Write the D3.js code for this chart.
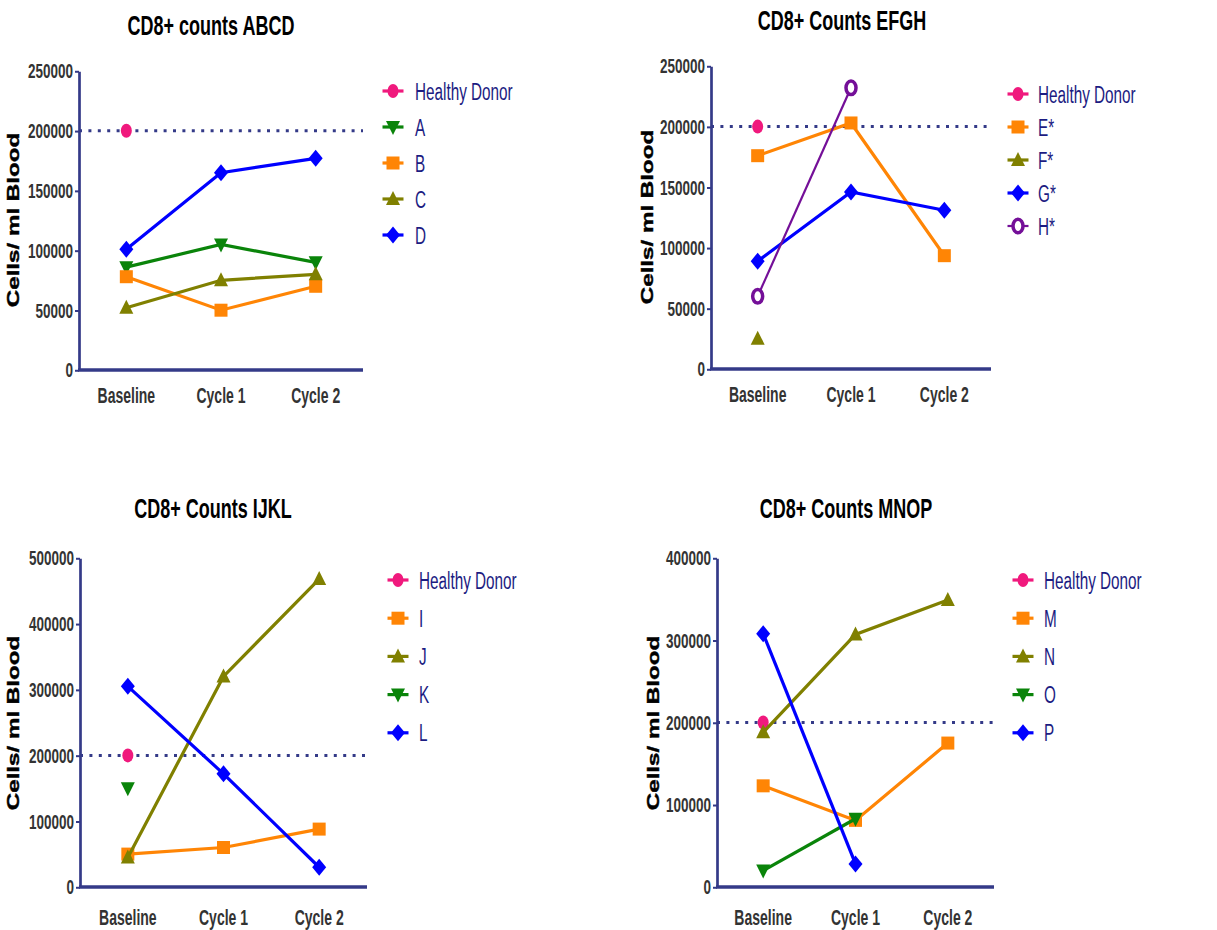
<!DOCTYPE html>
<html>
<head>
<meta charset="utf-8">
<script src="https://cdn.jsdelivr.net/npm/d3@7"></script>
<style>
  body { margin: 0; background: #fff; }
  text { font-family: "Liberation Sans", Arial, sans-serif; }
</style>
</head>
<body>
<svg id="chart"></svg>
<script>
// data
const timepoints = ['Baseline', 'Cycle 1', 'Cycle 2'];
const healthyDonor = [200000, null, null];
const referenceLevel = 200000;

const seriesA = [86000, 105000, 90000];
const seriesB = [78000, 50000, 70000];
const seriesC = [52000, 75000, 80000];
const seriesD = [101000, 165000, 177000];

const seriesE = [176000, 203000, 93500];
const seriesF = [25000, null, null];
const seriesG = [89000, 146000, 131000];
const seriesH = [60000, 232000, null];

const seriesI = [50000, 60000, 88000];
const seriesJ = [45000, 320000, 468000];
const seriesK = [150000, null, null];
const seriesL = [305000, 172000, 30000];

const seriesM = [123000, 81000, 175000];
const seriesN = [188000, 307000, 349000];
const seriesO = [20000, 83000, null];
const seriesP = [308000, 28000, null];

// the picture is stretched vertically, so draw into a 600 high viewBox
const W = 1217, H = 930, VH = 600;
const SY = H / VH;
const v = px => px / SY;

const pink = '#f0197d', green = '#0a840a', orange = '#ff8505',
      olive = '#808000', blue = '#0000ff', purple = '#740f98';
const axisColor = '#343a88', tickColor = '#333', legendColor = '#1c1c82';

const hd = { name: 'Healthy Donor', values: healthyDonor, color: pink, shape: 'circle' };

const panels = [
  { title: 'CD8+ counts ABCD', titleX: 211, titleY: 35,
    left: 79, right: 363, top: 71, bottom: 370, yMax: 250000, yStep: 50000,
    yLabelX: 18.5, yLabelY: 220, xLabelY: 403,
    legendX: 393, legendTextX: 415, legendY0: 91, legendDy: 36,
    series: [hd,
      { name: 'A', values: seriesA, color: green, shape: 'down' },
      { name: 'B', values: seriesB, color: orange, shape: 'square' },
      { name: 'C', values: seriesC, color: olive, shape: 'up' },
      { name: 'D', values: seriesD, color: blue, shape: 'diamond' }] },
  { title: 'CD8+ Counts EFGH', titleX: 842, titleY: 30,
    left: 711, right: 991, top: 66, bottom: 369, yMax: 250000, yStep: 50000,
    yLabelX: 652.5, yLabelY: 217, xLabelY: 402,
    legendX: 1018, legendTextX: 1038, legendY0: 94, legendDy: 33,
    series: [hd,
      { name: 'E*', values: seriesE, color: orange, shape: 'square' },
      { name: 'F*', values: seriesF, color: olive, shape: 'up' },
      { name: 'G*', values: seriesG, color: blue, shape: 'diamond' },
      { name: 'H*', values: seriesH, color: purple, shape: 'ring', width: 2.2 }] },
  { title: 'CD8+ Counts IJKL', titleX: 213, titleY: 518,
    left: 80, right: 367, top: 558, bottom: 887, yMax: 500000, yStep: 100000,
    yLabelX: 18.5, yLabelY: 723, xLabelY: 925,
    legendX: 398, legendTextX: 419, legendY0: 580, legendDy: 38.2,
    series: [hd,
      { name: 'I', values: seriesI, color: orange, shape: 'square' },
      { name: 'J', values: seriesJ, color: olive, shape: 'up' },
      { name: 'K', values: seriesK, color: green, shape: 'down' },
      { name: 'L', values: seriesL, color: blue, shape: 'diamond' }] },
  { title: 'CD8+ Counts MNOP', titleX: 846, titleY: 518,
    left: 717, right: 994, top: 558, bottom: 887, yMax: 400000, yStep: 100000,
    yLabelX: 658.5, yLabelY: 723, xLabelY: 925,
    legendX: 1023, legendTextX: 1044, legendY0: 580, legendDy: 38.2,
    series: [hd,
      { name: 'M', values: seriesM, color: orange, shape: 'square' },
      { name: 'N', values: seriesN, color: olive, shape: 'up' },
      { name: 'O', values: seriesO, color: green, shape: 'down' },
      { name: 'P', values: seriesP, color: blue, shape: 'diamond' }] }
];

// marker outlines in screen pixels
const shapes = {
  circle: 'M-5.5,0 A5.5,7 0 1,0 5.5,0 A5.5,7 0 1,0 -5.5,0 Z',
  ring: 'M-5,0 A5,6.8 0 1,0 5,0 A5,6.8 0 1,0 -5,0 Z',
  square: 'M-6.5,-6.5 H6.5 V6.5 H-6.5 Z',
  diamond: 'M0,-8.5 L7,0 L0,8.5 L-7,0 Z',
  up: 'M0,-8 L7,6 L-7,6 Z',
  down: 'M0,8 L7,-6 L-7,-6 Z'
};

const svg = d3.select('#chart')
  .attr('width', W)
  .attr('height', H)
  .attr('viewBox', `0 0 ${W} ${VH}`)
  .attr('preserveAspectRatio', 'none');

const drawMarker = (g, x, y, s) => {
  g.append('path')
    .attr('transform', `translate(${x},${y}) scale(1,${1 / SY})`)
    .attr('d', shapes[s.shape])
    .attr('fill', s.shape === 'ring' ? '#fff' : s.color)
    .attr('stroke', s.shape === 'ring' ? s.color : 'none')
    .attr('stroke-width', 3.5)
    .attr('vector-effect', 'non-scaling-stroke');
};

panels.forEach(p => {
  const g = svg.append('g');

  const xScale = d3.scalePoint()
    .domain(timepoints)
    .range([p.left, p.right])
    .padding(0.5);
  const yScale = d3.scaleLinear()
    .domain([0, p.yMax])
    .range([v(p.bottom), v(p.top)]);

  g.append('text')
    .attr('x', p.titleX)
    .attr('y', v(p.titleY))
    .attr('text-anchor', 'middle')
    .attr('font-size', 18)
    .attr('font-weight', 'bold')
    .attr('fill', '#000')
    .text(p.title);

  g.append('text')
    .attr('transform', `translate(${p.yLabelX},${v(p.yLabelY)}) rotate(-90)`)
    .attr('text-anchor', 'middle')
    .attr('font-size', 15.6)
    .attr('font-weight', 'bold')
    .attr('fill', '#000')
    .attr('stroke', '#000')
    .attr('stroke-width', 0.4)
    .text('Cells/ ml Blood');

  // reference level
  g.append('line')
    .attr('x1', p.left).attr('x2', p.right)
    .attr('y1', yScale(referenceLevel)).attr('y2', yScale(referenceLevel))
    .attr('stroke', axisColor)
    .attr('stroke-width', 3)
    .attr('stroke-dasharray', '3,6.4')
    .attr('vector-effect', 'non-scaling-stroke');

  const yAxis = d3.axisLeft(yScale)
    .tickValues(d3.range(0, p.yMax + 1, p.yStep))
    .tickFormat(d3.format('d'))
    .tickSize(4)
    .tickSizeOuter(0)
    .tickPadding(2);

  const yAxisG = g.append('g')
    .attr('transform', `translate(${p.left},0)`)
    .call(yAxis);
  yAxisG.select('.domain')
    .attr('stroke', axisColor)
    .attr('stroke-width', 2.7)
    .attr('vector-effect', 'non-scaling-stroke');
  yAxisG.selectAll('.tick line')
    .attr('stroke', axisColor)
    .attr('stroke-width', 2)
    .attr('vector-effect', 'non-scaling-stroke');
  yAxisG.selectAll('.tick text')
    .attr('font-family', '"Liberation Sans", Arial, sans-serif')
    .attr('font-size', 13.5)
    .attr('font-weight', 'bold')
    .attr('fill', tickColor);

  g.append('line')
    .attr('x1', p.left - 1).attr('x2', p.right)
    .attr('y1', v(p.bottom)).attr('y2', v(p.bottom))
    .attr('stroke', axisColor)
    .attr('stroke-width', 3.3)
    .attr('vector-effect', 'non-scaling-stroke');

  g.selectAll('.xlabel').data(timepoints)
    .enter().append('text')
      .attr('x', d => xScale(d))
      .attr('y', v(p.xLabelY))
      .attr('text-anchor', 'middle')
      .attr('font-size', 14)
      .attr('font-weight', 'bold')
      .attr('fill', tickColor)
      .text(d => d);

  const line = d3.line()
    .defined(d => d.value != null)
    .x(d => xScale(d.t))
    .y(d => yScale(d.value));

  p.series.forEach(s => {
    const pts = s.values.map((value, i) => ({ t: timepoints[i], value }));
    g.append('path')
      .datum(pts)
      .attr('d', line)
      .attr('fill', 'none')
      .attr('stroke', s.color)
      .attr('stroke-width', s.width || 3.2)
      .attr('vector-effect', 'non-scaling-stroke');
    pts.filter(d => d.value != null)
      .forEach(d => drawMarker(g, xScale(d.t), yScale(d.value), s));
  });

  p.series.forEach((s, i) => {
    const ly = v(p.legendY0 + i * p.legendDy);
    g.append('line')
      .attr('x1', p.legendX - 10.5).attr('x2', p.legendX + 10.5)
      .attr('y1', ly).attr('y2', ly)
      .attr('stroke', s.color)
      .attr('stroke-width', s.width || 3.2)
      .attr('vector-effect', 'non-scaling-stroke');
    drawMarker(g, p.legendX, ly, s);
    g.append('text')
      .attr('x', p.legendTextX)
      .attr('y', ly)
      .attr('dy', '0.36em')
      .attr('font-size', 15.3)
      .attr('fill', legendColor)
      .text(s.name);
  });
});
</script>
</body>
</html>
